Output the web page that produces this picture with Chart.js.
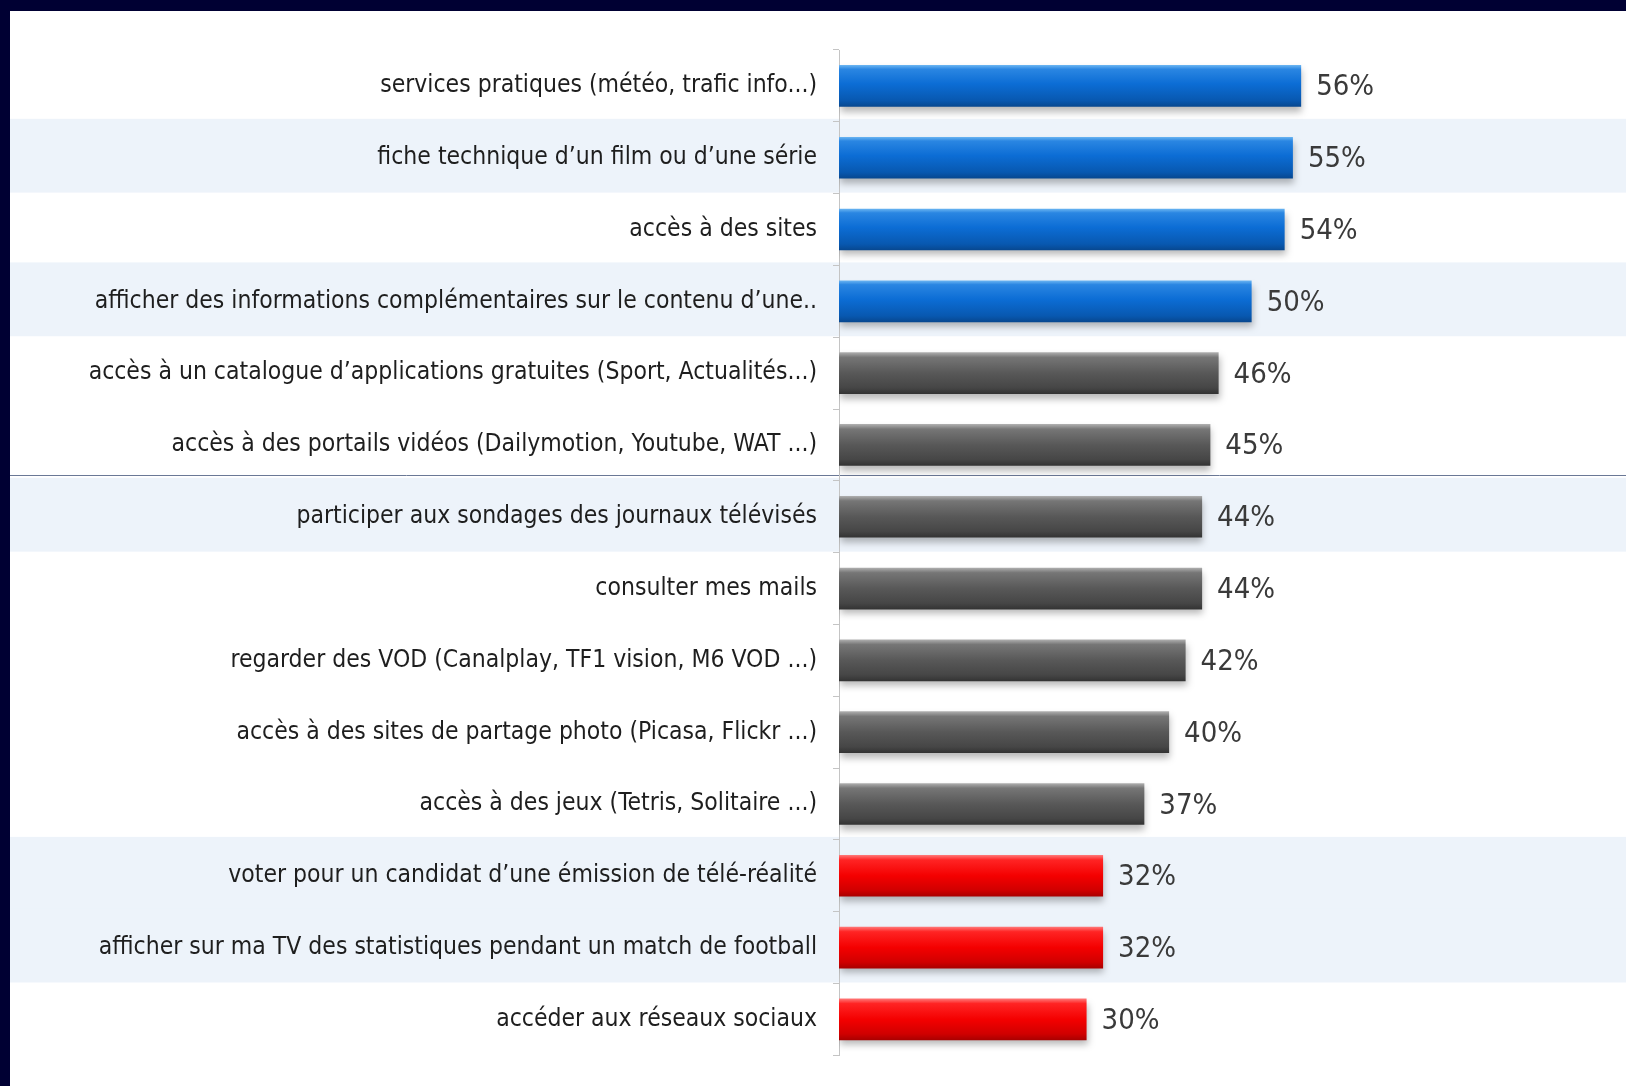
<!DOCTYPE html>
<html lang="fr">
<head>
<meta charset="utf-8">
<script src="https://cdn.jsdelivr.net/npm/chart.js@4.4.1/dist/chart.umd.min.js"></script>
<style>
  html, body { margin: 0; padding: 0; background: #ffffff; overflow: hidden; }
  #wrap { position: absolute; left: 0; top: 0; width: 1626px; height: 1086px; }
  #borderTop { position: absolute; left: 0; top: 0; width: 1626px; height: 11px; background: #000033; }
  #borderLeft { position: absolute; left: 0; top: 0; width: 10px; height: 1086px; background: #000033; }
</style>
</head>
<body>
<div id="wrap"><canvas id="c" width="1626" height="1086"></canvas></div>
<div id="borderTop"></div>
<div id="borderLeft"></div>
<script>
// ---- data ----
const categories = [
  'services pratiques (météo, trafic info...)',
  'fiche technique d’un film ou d’une série',
  'accès à des sites',
  'afficher des informations complémentaires sur le contenu d’une..',
  'accès à un catalogue d’applications gratuites (Sport, Actualités...)',
  'accès à des portails vidéos (Dailymotion, Youtube, WAT ...)',
  'participer aux sondages des journaux télévisés',
  'consulter mes mails',
  'regarder des VOD (Canalplay, TF1 vision, M6 VOD ...)',
  'accès à des sites de partage photo (Picasa, Flickr ...)',
  'accès à des jeux (Tetris, Solitaire ...)',
  'voter pour un candidat d’une émission de télé-réalité',
  'afficher sur ma TV des statistiques pendant un match de football',
  'accéder aux réseaux sociaux'
];
const values = [56, 55, 54, 50, 46, 45, 44, 44, 42, 40, 37, 32, 32, 30];
const tiers = ['high','high','high','high','mid','mid','mid','mid','mid','mid','mid','low','low','low'];
const shadedRows = [1, 3, 6, 11, 12];

// ---- styles ----
const tierStops = {
  high: [[0,'#6cb6f2'],[0.1,'#2a86e2'],[0.45,'#0c6dd5'],[0.85,'#0858b0'],[1,'#07478f']],
  mid:  [[0,'#b0b0b0'],[0.12,'#767676'],[0.5,'#585858'],[0.85,'#464646'],[1,'#333333']],
  low:  [[0,'#ff7a7a'],[0.12,'#ff2424'],[0.5,'#f40000'],[0.85,'#d00000'],[1,'#a80000']]
};
const labelFont = '"Liberation Sans Narrow", "DejaVu Sans Condensed", "Arial Narrow", sans-serif';
const BAR_PCT = 0.58;

function barGradient(ctx) {
  const chart = ctx.chart;
  const tier = tiers[ctx.dataIndex];
  const stops = tierStops[tier];
  if (!chart.chartArea || ctx.dataIndex === undefined) return stops[2][1];
  const y = chart.scales.y;
  const cy = y.getPixelForValue(ctx.dataIndex);
  const band = Math.abs(y.getPixelForValue(1) - y.getPixelForValue(0));
  const h = band * BAR_PCT;
  const g = chart.ctx.createLinearGradient(0, cy - h / 2, 0, cy + h / 2);
  stops.forEach(s => g.addColorStop(s[0], s[1]));
  return g;
}

const backgroundPlugin = {
  id: 'bg',
  beforeDraw(chart) {
    const c = chart.ctx, y = chart.scales.y;
    const band = Math.abs(y.getPixelForValue(1) - y.getPixelForValue(0));
    c.save();
    c.fillStyle = '#edf3fa';
    shadedRows.forEach(i => {
      const cy = y.getPixelForValue(i);
      c.fillRect(0, cy - band / 2 - 3, chart.width, band + 2);
    });
    const ly = Math.round((y.getPixelForValue(5) + y.getPixelForValue(6)) / 2 - 6) + 0.5;
    c.strokeStyle = '#6a7896';
    c.lineWidth = 1;
    c.beginPath();
    c.moveTo(0, ly);
    c.lineTo(chart.width, ly);
    c.stroke();
    c.restore();
  },
  beforeDatasetsDraw(chart) {
    const c = chart.ctx;
    c.save();
    c.shadowColor = 'rgba(0,0,0,0.28)';
    c.shadowBlur = 7;
    c.shadowOffsetY = 5;
    c.shadowOffsetX = 1;
  },
  afterDatasetsDraw(chart) {
    const c = chart.ctx;
    c.restore();
    const meta = chart.getDatasetMeta(0);
    c.save();
    c.font = '29px ' + labelFont;
    c.fillStyle = '#3a3a3a';
    c.textAlign = 'left';
    c.textBaseline = 'middle';
    meta.data.forEach((el, i) => {
      c.fillText(values[i] + '%', el.x + 15, el.y + 2);
    });
    c.restore();
  }
};

new Chart(document.getElementById('c'), {
  type: 'bar',
  data: {
    labels: categories,
    datasets: [{
      data: values,
      backgroundColor: barGradient,
      borderWidth: 0,
      barPercentage: BAR_PCT,
      categoryPercentage: 1
    }]
  },
  options: {
    indexAxis: 'y',
    responsive: false,
    animation: false,
    devicePixelRatio: 1,
    layout: { padding: { left: 0, right: 3, top: 50, bottom: 21 } },
    plugins: { legend: { display: false }, tooltip: { enabled: false } },
    scales: {
      x: { display: false, min: 0, max: 95 },
      y: {
        afterFit(scale) { scale.width = 839; },
        grid: { display: true, drawOnChartArea: false, drawTicks: true, tickLength: 6, color: '#c4c4c4', offset: true },
        border: { display: true, color: '#c4c4c4', width: 1 },
        ticks: {
          color: '#1e1e1e',
          padding: 16,
          font: { family: labelFont, size: 24.5 },
          autoSkip: false
        }
      }
    }
  },
  plugins: [backgroundPlugin]
});
</script>
</body>
</html>
